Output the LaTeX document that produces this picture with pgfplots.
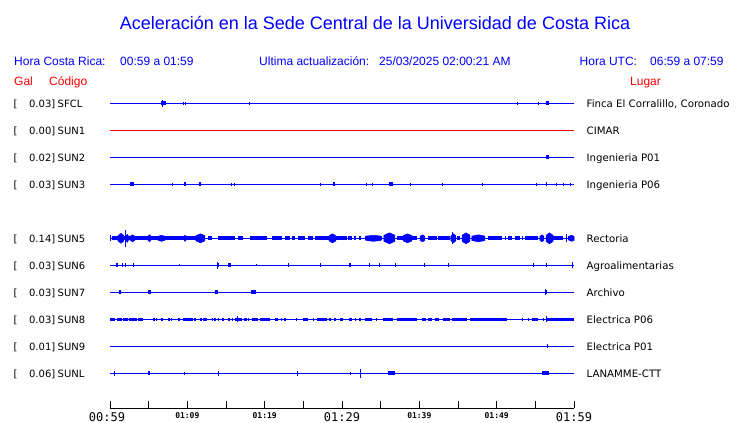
\documentclass[border=0pt]{standalone}
\usepackage{fontspec}
\usepackage{pgfplots}
\pgfplotsset{compat=1.18}
\newfontfamily\lib{Liberation Sans}
\newfontfamily\dv{DejaVu Sans}
\newfontfamily\dvm{DejaVu Sans Mono}
\definecolor{tblue}{RGB}{0,0,255}
\definecolor{tred}{RGB}{255,0,0}
\newcommand\tbig{\dvm\fontsize{12pt}{12pt}\selectfont}
\newcommand\tsmall{\dvm\bfseries\fontsize{8pt}{8pt}\selectfont}
\pgfplotsset{
  trace/.style={scale only axis, width=464pt, height=27pt, xmin=0, xmax=60,
    ymin=-13.5, ymax=13.5, hide axis, clip=false, anchor=west,
    unbounded coords=jump},
  base/.style={tblue, line width=1.2pt, mark=none},
  band/.style={tblue, line width=#1, line cap=butt, mark=none},
  spk/.style={tblue, line width=1pt, mark=none},
  burst/.style={fill=tblue, draw=tblue, line width=0.5pt, mark=none},
}
\begin{document}
\begin{tikzpicture}
% ---------- header texts ----------
\tikzset{hdr/.style={anchor=base west, inner sep=0pt, text=tblue, font=\lib\fontsize{12pt}{12pt}\selectfont},
         hdrr/.style={anchor=base west, inner sep=0pt, text=tred, font=\lib\fontsize{12pt}{12pt}\selectfont},
         stl/.style={inner sep=0pt, font=\dv\fontsize{10pt}{10pt}\selectfont},
         str/.style={inner sep=0pt, font=\dv\fontsize{10.2pt}{10.2pt}\selectfont}}
\node[anchor=base, inner sep=0pt, text=tblue, font=\lib\fontsize{18pt}{18pt}\selectfont] at (375pt,-29pt) {Aceleración en la Sede Central de la Universidad de Costa Rica};
\node[hdr] at (14pt,-65pt) {Hora Costa Rica:};
\node[hdr] at (120pt,-65pt) {00:59 a 01:59};
\node[hdr] at (259pt,-65pt) {Ultima actualización:};
\node[hdr] at (379pt,-65pt) {25/03/2025 02:00:21 AM};
\node[hdr] at (579.5pt,-65pt) {Hora UTC:};
\node[hdr] at (650pt,-65pt) {06:59 a 07:59};
\node[hdrr] at (14pt,-85pt) {Gal};
\node[hdrr] at (49pt,-85pt) {Código};
\node[hdrr] at (630pt,-85pt) {Lugar};
\foreach \y/\g/\c/\p in {103.3/0.03/SFCL/{Finca El Corralillo, Coronado},
  130.3/0.00/SUN1/CIMAR, 157.3/0.02/SUN2/{Ingenieria P01}, 184.3/0.03/SUN3/{Ingenieria P06},
  238.3/0.14/SUN5/Rectoria, 265.3/0.03/SUN6/Agroalimentarias, 292.3/0.03/SUN7/Archivo,
  319.3/0.03/SUN8/{Electrica P06}, 346.3/0.01/SUN9/{Electrica P01}, 373.3/0.06/SUNL/{LANAMME-CTT}}{
  \node[stl, anchor=base west] at (13.5pt,-\y pt-4pt) {[};
  \node[stl, anchor=base east] at (55.5pt,-\y pt-4pt) {\g]};
  \node[stl, anchor=base west] at (57.5pt,-\y pt-4pt) {\c};
  \node[str, anchor=base west] at (586.5pt,-\y pt-4pt) {\p};
}
% ---------- SFCL ----------
\begin{axis}[trace, at={(110pt,-103.3pt)}]
\addplot[base] coordinates {(0,0)(60,0)};
\addplot[band=4pt] coordinates {(6.59,0)(7.24,0)(7.24,nan)(56.38,0)(56.77,0)};
\addplot[spk] coordinates {(6.85,-3.5)(6.85,3.5)(6.85,nan)(9.44,-1.5)(9.44,1.5)(9.44,nan)(9.70,-1.5)(9.70,1.5)(9.70,nan)(18.10,-1.5)(18.10,1.5)(18.10,nan)(52.63,-1.5)(52.63,1.5)(52.63,nan)(55.47,-1.5)(55.47,1.5)};
\end{axis}
% ---------- SUN1 ----------
\begin{axis}[trace, at={(110pt,-130.3pt)}]
\addplot[base, tred] coordinates {(0,0)(60,0)};
\end{axis}
% ---------- SUN2 ----------
\begin{axis}[trace, at={(110pt,-157.3pt)}]
\addplot[base] coordinates {(0,0)(60,0)};
\addplot[band=4pt] coordinates {(56.38,0)(56.77,0)};
\end{axis}
% ---------- SUN3 ----------
\begin{axis}[trace, at={(110pt,-184.3pt)}]
\addplot[base] coordinates {(0,0)(60,0)};
\addplot[band=4pt] coordinates {(2.59,0)(2.97,0)(2.97,nan)(9.57,0)(9.83,0)(9.83,nan)(11.51,0)(11.77,0)(11.77,nan)(28.84,0)(29.09,0)(29.09,nan)(36.08,0)(36.60,0)};
\addplot[spk] coordinates {(3.10,-2)(3.10,2)(3.10,nan)(8.02,-1.5)(8.02,1.5)(8.02,nan)(15.65,-1.5)(15.65,1.5)(15.65,nan)(16.16,-1.5)(16.16,1.5)(16.16,nan)(27.16,-1.5)(27.16,1.5)(27.16,nan)(33.23,-1.5)(33.23,1.5)(33.23,nan)(33.88,-1.5)(33.88,1.5)(33.88,nan)(38.92,-1.5)(38.92,1.5)(38.92,nan)(43.06,-1.5)(43.06,1.5)(43.06,nan)(48.23,-1.5)(48.23,1.5)(48.23,nan)(55.09,-1.5)(55.09,1.5)(55.09,nan)(56.38,-2)(56.38,2)(56.38,nan)(57.80,-1.5)(57.80,1.5)(57.80,nan)(58.58,-1.5)(58.58,1.5)(58.58,nan)(59.61,-1.5)(59.61,1.5)};
\end{axis}
% ---------- SUN5 ----------
\begin{axis}[trace, at={(110pt,-238.3pt)}]
\addplot[base] coordinates {(0,0)(60,0)};
\addplot[band=4pt] coordinates {(0.26,0)(11.77,0)(11.77,nan)(12.67,0)(13.19,0)(13.19,nan)(13.97,0)(16.16,0)(16.16,nan)(16.55,0)(17.20,0)(17.20,nan)(18.10,0)(20.30,0)(20.30,nan)(20.95,0)(22.24,0)(22.24,nan)(22.63,0)(23.28,0)(23.28,nan)(23.53,0)(23.92,0)(23.92,nan)(24.31,0)(25.22,0)(25.22,nan)(25.60,0)(26.25,0)(26.25,nan)(26.51,0)(30.65,0)(30.65,nan)(30.78,0)(31.29,0)(31.29,nan)(31.55,0)(31.81,0)(31.81,nan)(32.20,0)(32.46,0)(32.46,nan)(32.97,0)(35.17,0)(35.17,nan)(35.43,0)(36.85,0)(36.85,nan)(37.11,0)(39.70,0)(39.70,nan)(40.09,0)(40.73,0)(40.73,nan)(41.12,0)(42.28,0)(42.28,nan)(42.41,0)(43.97,0)(43.97,nan)(44.22,0)(44.61,0)(44.61,nan)(44.87,0)(45.26,0)(45.26,nan)(45.52,0)(46.55,0)(46.55,nan)(46.81,0)(48.49,0)(48.49,nan)(48.88,0)(50.69,0)(50.69,nan)(51.08,0)(51.21,0)(51.21,nan)(51.47,0)(51.98,0)(51.98,nan)(52.37,0)(53.02,0)(53.02,nan)(53.28,0)(53.41,0)(53.41,nan)(53.66,0)(55.34,0)(55.34,nan)(55.60,0)(55.99,0)(55.99,nan)(56.51,0)(58.58,0)(58.58,nan)(59.22,0)(60,0)};
% bursts: (start,0)(start,h)(centre,amp)(end,h)(end,-h)(centre,-amp)
\addplot[burst] coordinates {(1.03,-2.6)(1.03,2.6)(1.42,5)(1.81,2.6)(1.81,-2.6)(1.42,-5)} --cycle;
\addplot[burst] coordinates {(2.07,-2.2)(2.07,2.2)(2.23,4)(2.39,2.2)(2.39,-2.2)(2.23,-4)} --cycle;
\addplot[burst] coordinates {(2.59,-2)(2.59,2)(2.91,3.5)(3.23,2)(3.23,-2)(2.91,-3.5)} --cycle;
\addplot[burst] coordinates {(4.91,-2)(4.91,2)(5.11,3.5)(5.30,2)(5.30,-2)(5.11,-3.5)} --cycle;
\addplot[burst] coordinates {(6.21,-2)(6.21,2)(6.66,3)(7.11,2)(7.11,-2)(6.66,-3)} --cycle;
\addplot[burst] coordinates {(9.57,-2)(9.57,2)(9.70,3)(9.83,2)(9.83,-2)(9.70,-3)} --cycle;
\addplot[burst] coordinates {(11.12,-2.6)(11.12,2.6)(11.70,4.5)(12.28,2.6)(12.28,-2.6)(11.70,-4.5)} --cycle;
\addplot[burst] coordinates {(28.32,-2.6)(28.32,2.6)(28.77,4.5)(29.22,2.6)(29.22,-2.6)(28.77,-4.5)} --cycle;
\addplot[burst] coordinates {(33.10,-2.2)(33.10,2.2)(34.07,3)(35.04,2.2)(35.04,-2.2)(34.07,-3)} --cycle;
\addplot[burst] coordinates {(35.43,-3)(35.43,3)(36.14,5.5)(36.85,3)(36.85,-3)(36.14,-5.5)} --cycle;
\addplot[burst] coordinates {(37.89,-2.6)(37.89,2.6)(38.47,4.5)(39.05,2.6)(39.05,-2.6)(38.47,-4.5)} --cycle;
\addplot[burst] coordinates {(40.09,-2)(40.09,2)(40.41,3.5)(40.73,2)(40.73,-2)(40.41,-3.5)} --cycle;
\addplot[burst] coordinates {(44.09,-2.4)(44.09,2.4)(44.42,4.5)(44.74,2.4)(44.74,-2.4)(44.42,-4.5)} --cycle;
\addplot[burst] coordinates {(45.52,-3)(45.52,3)(46.04,5.5)(46.55,3)(46.55,-3)(46.04,-5.5)} --cycle;
\addplot[burst] coordinates {(46.81,-2.2)(46.81,2.2)(47.65,3.5)(48.49,2.2)(48.49,-2.2)(47.65,-3.5)} --cycle;
\addplot[burst] coordinates {(55.60,-2)(55.60,2)(55.86,3.5)(56.12,2)(56.12,-2)(55.86,-3.5)} --cycle;
\addplot[burst] coordinates {(56.38,-3)(56.38,3)(56.83,5.5)(57.29,3)(57.29,-3)(56.83,-5.5)} --cycle;
\addplot[burst] coordinates {(59.35,-2)(59.35,2)(59.68,3)(60,2)(60,-2)(59.68,-3)} --cycle;
\addplot[spk] coordinates {(0,-3)(0,3)(0,nan)(1.94,-8.5)(1.94,8.5)(1.94,nan)(44.35,-6)(44.35,6)(44.35,nan)(59.06,-4)(59.06,4)};
\end{axis}
% ---------- SUN6 ----------
\begin{axis}[trace, at={(110pt,-265.3pt)}]
\addplot[base] coordinates {(0,0)(60,0)};
\addplot[band=4pt] coordinates {(0.78,0)(1.07,0)(1.07,nan)(13.88,0)(14.06,0)(14.06,nan)(15.30,0)(15.61,0)(15.61,nan)(30.94,0)(31.16,0)(31.16,nan)(43.67,0)(43.84,0)};
\addplot[spk] coordinates {(1.64,-2)(1.64,2)(1.64,nan)(1.94,-2)(1.94,2)(1.94,nan)(3.01,-2)(3.01,2)(3.01,nan)(8.96,-1)(8.96,1)(8.96,nan)(13.88,-3.5)(13.88,3.5)(13.88,nan)(18.97,-1)(18.97,1)(18.97,nan)(23.06,-2)(23.06,2)(23.06,nan)(27.25,-2)(27.25,2)(27.25,nan)(33.53,-2)(33.53,2)(33.53,nan)(34.82,-2)(34.82,2)(34.82,nan)(36.89,-2)(36.89,2)(36.89,nan)(40.64,-2)(40.64,2)(40.64,nan)(54.74,-2)(54.74,2)(54.74,nan)(56.47,-2)(56.47,2)(56.47,nan)(59.83,-3)(59.83,3)};
\end{axis}
% ---------- SUN7 ----------
\begin{axis}[trace, at={(110pt,-292.3pt)}]
\addplot[base] coordinates {(0,0)(60,0)};
\addplot[band=4pt] coordinates {(1.20,0)(1.38,0)(1.38,nan)(4.95,0)(5.26,0)(5.26,nan)(13.58,0)(13.93,0)(13.93,nan)(18.23,0)(18.84,0)(18.84,nan)(56.25,0)(56.55,0)};
\addplot[spk] coordinates {(1.20,-2)(1.20,2)(1.20,nan)(56.30,-3)(56.30,3)};
\end{axis}
% ---------- SUN8 ----------
\begin{axis}[trace, at={(110pt,-319.3pt)}]
\addplot[base] coordinates {(0,0)(60,0)};
\addplot[band=3.5pt] coordinates {(0,0)(0.65,0)(0.65,nan)(0.87,0)(1.51,0)(1.51,nan)(1.72,0)(2.29,0)(2.29,nan)(2.46,0)(3.45,0)(3.45,nan)(3.66,0)(4.31,0)(4.31,nan)(5.60,0)(5.82,0)(5.82,nan)(5.95,0)(6.14,0)(6.14,nan)(6.60,0)(6.79,0)(6.79,nan)(7.54,0)(7.76,0)(7.76,nan)(7.89,0)(8.08,0)(8.08,nan)(8.83,0)(9.05,0)(9.05,nan)(9.48,0)(10.77,0)(10.77,nan)(10.90,0)(11.09,0)(11.09,nan)(11.64,0)(11.86,0)(11.86,nan)(12.07,0)(12.50,0)(12.50,nan)(13.14,0)(13.32,0)(13.32,nan)(13.49,0)(13.68,0)(13.68,nan)(13.91,0)(14.10,0)(14.10,nan)(14.44,0)(14.78,0)(14.78,nan)(15.30,0)(15.52,0)(15.52,nan)(15.74,0)(15.95,0)(15.95,nan)(16.16,0)(17.03,0)(17.03,nan)(17.37,0)(17.68,0)(17.68,nan)(17.79,0)(17.98,0)(17.98,nan)(18.32,0)(19.18,0)(19.18,nan)(19.40,0)(20.69,0)(20.69,nan)(21.34,0)(21.76,0)(21.76,nan)(22.11,0)(22.30,0)(22.30,nan)(22.54,0)(22.73,0)(22.73,nan)(24.05,0)(24.24,0)(24.24,nan)(25.00,0)(25.64,0)(25.64,nan)(26.20,0)(26.39,0)(26.39,nan)(26.73,0)(28.02,0)(28.02,nan)(28.36,0)(28.55,0)(28.55,nan)(29.00,0)(29.17,0)(29.17,nan)(29.74,0)(30.17,0)(30.17,nan)(30.94,0)(31.25,0)(31.25,nan)(31.68,0)(31.81,0)(31.81,nan)(32.24,0)(32.43,0)(32.43,nan)(32.97,0)(33.84,0)(33.84,nan)(34.40,0)(34.56,0)(34.56,nan)(35.34,0)(36.63,0)(36.63,nan)(37.07,0)(39.66,0)(39.66,nan)(40.31,0)(40.86,0)(40.86,nan)(41.16,0)(41.60,0)(41.60,nan)(42.03,0)(42.58,0)(42.58,nan)(43.10,0)(43.97,0)(43.97,nan)(44.18,0)(46.13,0)(46.13,nan)(46.55,0)(51.30,0)(51.30,nan)(53.24,0)(53.45,0)(53.45,nan)(54.00,0)(54.19,0)(54.19,nan)(54.53,0)(55.39,0)(55.39,nan)(55.95,0)(56.12,0)(56.12,nan)(56.47,0)(60,0)};
\addplot[spk] coordinates {(16.55,-3)(16.55,3)(16.55,nan)(56.47,-3)(56.47,3)};
\end{axis}
% ---------- SUN9 ----------
\begin{axis}[trace, at={(110pt,-346.3pt)}]
\addplot[base] coordinates {(0,0)(60,0)};
\addplot[band=4pt] coordinates {(56.47,0)(56.68,0)};
\end{axis}
% ---------- SUNL ----------
\begin{axis}[trace, at={(110pt,-373.3pt)}]
\addplot[base] coordinates {(0,0)(60,0)};
\addplot[band=4pt] coordinates {(4.95,0)(5.13,0)(5.13,nan)(35.99,0)(36.85,0)(36.85,nan)(55.82,0)(56.81,0)};
\addplot[spk] coordinates {(0.56,-2.5)(0.56,2.5)(0.56,nan)(9.61,-1.5)(9.61,1.5)(9.61,nan)(14.00,-2.5)(14.00,2.5)(14.00,nan)(24.22,-2.5)(24.22,2.5)(24.22,nan)(31.13,-1.5)(31.13,1.5)(31.13,nan)(32.33,-4.5)(32.33,4.5)};
\end{axis}
% ---------- time axis ----------
\begin{axis}[scale only axis, width=464pt, height=10pt, at={(110pt,-408pt)}, anchor=south west,
  xmin=0, xmax=60, ymin=0, ymax=1, axis x line=bottom, axis y line=none,
  x axis line style={-, line width=1pt, black},
  xtick={0,5,10,15,20,25,30,35,40,45,50,55,60},
  xticklabels={{\tbig\hspace*{-6pt}00:59},{},{\tsmall 01:09},{},{\tsmall 01:19},{},{\tbig 01:29},{},{\tsmall 01:39},{},{\tsmall 01:49},{},{\tbig 01:59}},
  xtick align=inside, major tick length=7pt,
  xtick style={black, line width=1pt},
  xticklabel style={anchor=north, inner sep=0pt, yshift=-4pt, text=black},
  ytick=\empty]
\addplot[draw=none] coordinates {(0,0)(60,0)};
\end{axis}
\pgfresetboundingbox
\path (0,0) rectangle (740pt,-423pt);
\end{tikzpicture}
\end{document}
